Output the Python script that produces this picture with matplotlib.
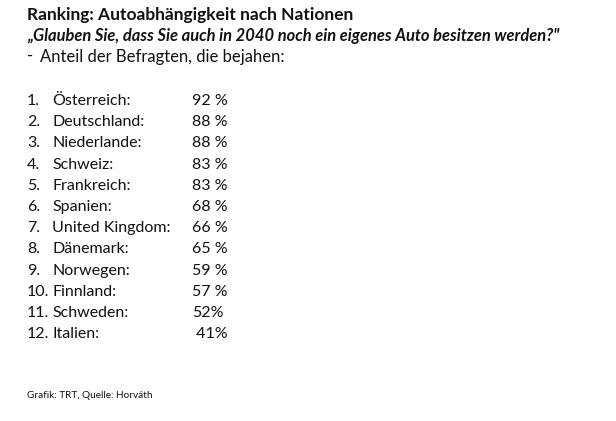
import matplotlib
matplotlib.use("Agg")
import matplotlib.pyplot as plt

title = "Ranking: Autoabhängigkeit nach Nationen"
subtitle = "„Glauben Sie, dass Sie auch in 2040 noch ein eigenes Auto besitzen werden?\""
note = "Anteil der Befragten, die bejahen:"
footer = "Grafik: TRT, Quelle: Horváth"

ranks = ["1.", "2.", "3.", "4.", "5.", "6.", "7.", "8.", "9.", "10.", "11.", "12."]
countries = ["Österreich:", "Deutschland:", "Niederlande:", "Schweiz:", "Frankreich:",
             "Spanien:", "United Kingdom:", "Dänemark:", "Norwegen:", "Finnland:",
             "Schweden:", "Italien:"]
values = [92, 88, 88, 83, 83, 68, 66, 65, 59, 57, 52, 41]
value_labels = ["92 %", "88 %", "88 %", "83 %", "83 %", "68 %", "66 %", "65 %",
                "59 %", "57 %", "52%", " 41%"]

plt.rcParams['font.family'] = ['Lato', 'DejaVu Sans']

W, H = 616, 421
fig = plt.figure(figsize=(W / 100, H / 100), dpi=100)
ax = fig.add_axes([0, 0, 1, 1])
ax.set_xlim(0, W)
ax.set_ylim(H, 0)
ax.axis("off")

col = "#111111"
ax.text(27, 15, title, fontsize=12.5, fontweight="bold", color=col, va="center", ha="left")
ax.text(27, 36, subtitle, fontsize=11.9, fontweight="bold", fontstyle="italic", color=col,
        va="center", ha="left")
ax.text(27, 56, "-", fontsize=12, color=col, va="center", ha="left")
ax.text(40, 57, note, fontsize=12, color=col, va="center", ha="left")

y0, dy = 101, 21.2
for i, (r, c, v) in enumerate(zip(ranks, countries, value_labels)):
    y = y0 + i * dy
    ax.text(27, y, r, fontsize=11.5, color=col, va="center", ha="left")
    ax.text(52, y, c, fontsize=11.5, color=col, va="center", ha="left")
    ax.text(192, y, v, fontsize=11.5, color=col, va="center", ha="left")

ax.text(27, 396, footer, fontsize=7.2, color=col, va="center", ha="left")

fig.savefig("out.png", dpi=100, facecolor="white")
